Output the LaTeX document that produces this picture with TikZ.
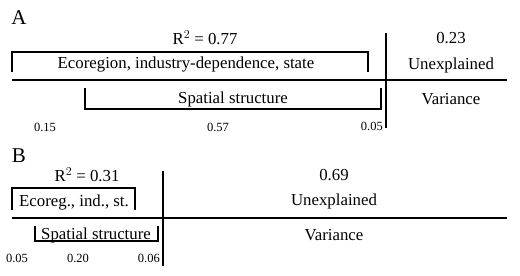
\documentclass[tikz,border=0pt]{standalone}
\usepackage{fontspec}
\setmainfont{Liberation Serif}
\begin{document}
\begin{tikzpicture}[x=1pt,y=-1pt,
  lbl/.style={inner sep=0pt,font=\fontsize{16.8}{18}\selectfont},
  panel/.style={inner sep=0pt,font=\fontsize{21}{23}\selectfont},
  num/.style={inner sep=0pt,font=\fontsize{12.5}{14}\selectfont},
  axisline/.style={line width=2.8pt},
  brack/.style={line width=1.1pt}]
\useasboundingbox (0,0) rectangle (520,276);
% ---- Panel A
\node[panel] (pA) at (19,18) {A};
\node[lbl] (r2A) at (205,38) {R$^{2}$ = 0.77};
\draw[brack] (12,72) -- (12,52) -- (368,52) -- (368,72);
\node[lbl] (ecoA) at (186,64) {Ecoregion, industry-dependence, state};
\draw[brack] (85,88) -- (85,109) -- (381,109) -- (381,88);
\node[lbl] (spA) at (233,99) {Spatial structure};
\draw[axisline] (12,80) -- (507,80);
\draw[axisline] (386,33) -- (386,128);
\node[lbl] (unA) at (451,38) {0.23};
\node[lbl] (unxA) at (451,65) {Unexplained};
\node[lbl] (varA) at (451,99) {Variance};
\node[num] (n1A) at (45,127) {0.15};
\node[num] (n2A) at (218,127) {0.57};
\node[num,anchor=east] (n3A) at (383,126) {0.05};
% ---- Panel B
\node[panel] (pB) at (19,156) {B};
\node[lbl] (r2B) at (87,175) {R$^{2}$ = 0.31};
\draw[brack] (12,210) -- (12,188) -- (135,188) -- (135,210);
\node[lbl] (ecoB) at (74,202) {Ecoreg., ind., st.};
\draw[brack] (35,226) -- (35,241) -- (158,241) -- (158,226);
\node[lbl] (spB) at (96,235) {Spatial structure};
\draw[axisline] (12,218) -- (507,218);
\draw[axisline] (163,171) -- (163,266);
\node[lbl] (unB) at (334,175) {0.69};
\node[lbl] (unxB) at (334,201) {Unexplained};
\node[lbl] (varB) at (334,235) {Variance};
\node[num] (n1B) at (17,258) {0.05};
\node[num] (n2B) at (78,258) {0.20};
\node[num,anchor=east] (n3B) at (160,258) {0.06};
\end{tikzpicture}
\end{document}
